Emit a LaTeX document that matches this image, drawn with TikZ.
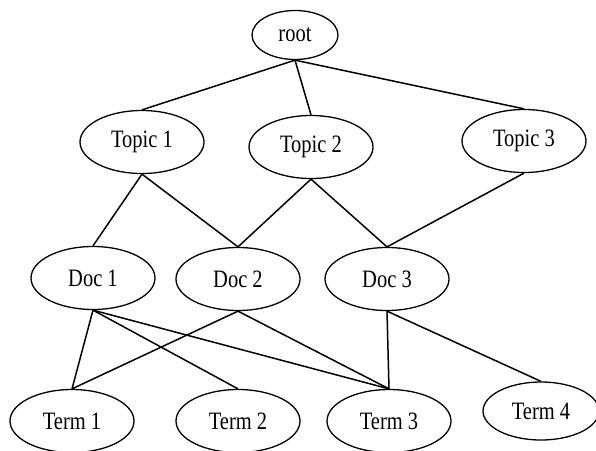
\documentclass[tikz,border=0pt]{standalone}
\usepackage{fontspec}
\setmainfont{Liberation Serif}[FakeStretch=0.82]
\usetikzlibrary{shapes.geometric}
\begin{document}
\begin{tikzpicture}[x=1pt,y=1pt,
  ell/.style={draw, ellipse, line width=1.3pt, inner sep=0pt,
    font=\fontsize{25}{28}\selectfont, minimum width=124pt, minimum height=63pt},
  link/.style={line width=1.5pt}]
\useasboundingbox[fill=white] (0,0) rectangle (596,-450);
\node[ell, minimum width=86pt, minimum height=49pt] (root) at (295,-35) {root};
\node[ell] (t1) at (142,-142) {Topic 1};
\node[ell] (t2) at (311,-147) {Topic 2};
\node[ell] (t3) at (524,-141) {Topic 3};
\node[ell] (d1) at (93,-278) {Doc 1};
\node[ell] (d2) at (238,-279) {Doc 2};
\node[ell] (d3) at (387,-279) {Doc 3};
\node[ell] (m1) at (72,-421) {Term 1};
\node[ell] (m2) at (238,-421) {Term 2};
\node[ell] (m3) at (389,-421) {Term 3};
\node[ell, minimum width=116pt, minimum height=58pt] (m4) at (541,-411) {Term 4};
\draw[link] (root.south) -- (t1.north);
\draw[link] (root.south) -- (t2.north);
\draw[link] (root.south) -- (t3.north);
\draw[link] (t1.south) -- (d1.north);
\draw[link] (t1.south) -- (d2.north);
\draw[link] (t2.south) -- (d2.north);
\draw[link] (t2.south) -- (d3.north);
\draw[link] (t3.south) -- (d3.north);
\draw[link] (d1.south) -- (m1.north);
\draw[link] (d1.south) -- (m2.north);
\draw[link] (d1.south) -- (m3.north);
\draw[link] (d2.south) -- (m1.north);
\draw[link] (d2.south) -- (m3.north);
\draw[link] (d3.south) -- (m3.north);
\draw[link] (d3.south) -- (m4.north);
\end{tikzpicture}
\end{document}
